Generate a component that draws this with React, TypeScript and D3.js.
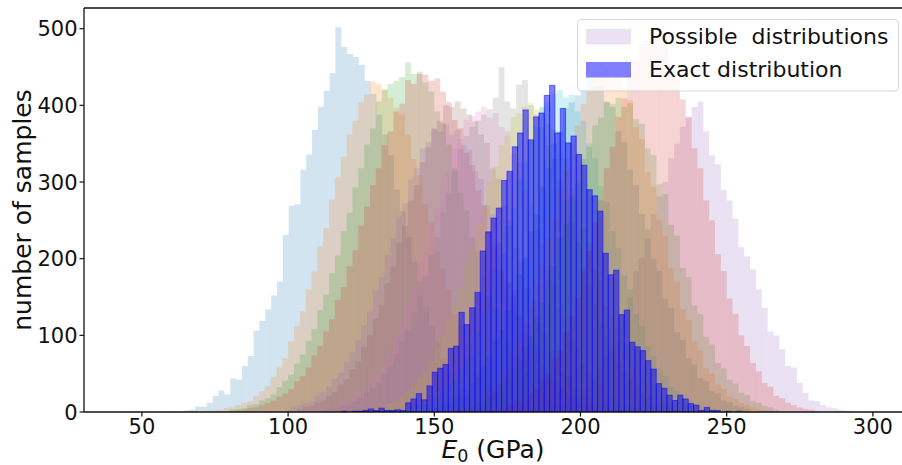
import React from "react";
import * as d3 from "d3";

// ---------- data ----------
const X_TICKS = [50, 100, 150, 200, 250, 300];
const Y_TICKS = [0, 100, 200, 300, 400, 500];
const X_DOMAIN = [30.2, 310.5];
const Y_DOMAIN = [0, 527];

const TAB10 = ["#1f77b4", "#ff7f0e", "#2ca02c", "#d62728", "#9467bd", "#8c564b", "#e377c2", "#7f7f7f", "#bcbd22", "#17becf"];

const POSSIBLE_BIN_WIDTH = 2;

const blueA = [1,0,1,0,0,0,0,1,0,1,1,2,3,7,7,12,21,28,23,44,42,60,73,106,119,134,152,170,231,269,271,316,336,368,398,419,442,502,476,467,463,453,432,415,388,362,335,290,262,228,196,170,138,112,92,70,55,41,30,21,15,10,6,4,2,1];
const orangeA = [1,0,1,2,2,3,5,6,9,12,14,21,27,34,46,58,70,92,112,131,160,183,216,240,277,306,333,362,380,404,414,431,428,421,410,397,388,362,330,309,271,248,209,187,160,128,112,88,74,55,46,33,27,19,16,11,8,6,3,3,2,1];
const greenA = [3,4,5,9,10,15,18,23,32,41,49,63,75,93,108,133,153,181,204,236,260,293,318,349,370,405,420,428,432,437,456,441,444,430,418,392,377,349,318,286,263,228,209,177,151,133,108,95,74,60,51,38,31,23,18,13,10,7,5,4,2];
const redA = [2,3,5,6,9,12,15,20,24,30,40,47,58,74,86,105,121,146,163,190,211,243,268,296,318,348,366,392,402,433,428,441,440,432,435,418,404,381,370,338,322,289,270,236,218,186,167,140,125,101,88,70,61,46,40,30,26,18,15,10,9,6,4,3,1];
const purpleA = [1,1,2,4,6,9,12,18,25,33,44,58,74,88,110,131,150,184,201,226,258,281,300,331,350,372,384,398,405,366,335,323,290,276,252,215,203,186,160,136,105,100,82,60,58,38,25,15,14,9,6,5,3,2,1];
const brownA = [4,7,8,12,15,21,26,36,43,56,66,85,100,122,140,168,190,221,243,276,296,326,345,369,380,400,398,405,396,388,379,362,351,318,304,268,250,214,196,162,147,116,104,80,70,52,46,32,28,19,16,11,9,5,4];
const pinkA = [3,6,9,11,16,19,27,33,45,52,69,80,101,116,142,160,192,208,246,265,298,314,344,356,381,386,392,398,384,390,372,366,338,325,290,272,237,218,184,170,136,122,95,84,62,55,40,36,24,20,13,11,7,5,3];
const grayA = [3,4,5,8,10,14,18,25,31,38,50,60,76,92,108,130,151,177,205,228,260,286,315,343,360,372,380,388,395,410,450,405,396,427,433,400,388,372,348,330,302,276,248,221,190,166,140,118,100,82,66,53,42,32,25,19,14,10,7,5,3,2,1];
const oliveA = [4,6,9,12,14,21,26,35,45,53,67,85,99,118,143,162,194,214,246,270,300,320,348,360,385,390,398,403,395,398,376,368,340,330,292,276,240,222,186,172,138,124,96,86,65,56,42,36,25,21,14,12,8,6,3];
const cyanA = [2,3,4,6,9,10,16,19,27,35,44,56,70,92,106,132,153,185,206,243,266,303,325,355,372,398,404,415,420,410,414,392,380,350,331,295,274,236,214,178,160,128,112,86,73,55,47,33,28,18,16,10,8,5,4,2,1];
const blueB = [4,6,10,12,17,22,29,38,46,61,72,92,108,133,152,180,201,236,258,294,318,350,366,396,404,413,420,433,424,426,405,398,366,352,316,296,258,238,200,184,148,136,104,94,70,62,44,40,27,24,15,13,8,6,4];
const orangeB = [2,3,5,6,9,12,17,20,29,36,48,60,77,94,118,137,167,192,226,254,290,316,350,374,402,418,438,444,448,436,441,420,407,372,356,313,294,250,230,188,170,134,120,92,80,57,50,36,30,20,17,11,9,6,4,2,1];
const greenB = [4,7,8,13,15,22,27,37,45,57,68,86,100,125,142,172,191,226,245,280,298,330,346,374,384,404,402,410,398,403,382,376,344,335,297,284,244,230,188,176,139,128,98,88,64,57,42,37,25,22,14,12,8,6,3];
const redB = [2,3,5,6,9,14,16,24,30,41,50,68,80,104,125,150,183,210,247,276,318,346,385,409,443,458,480,484,490,478,486,455,444,408,385,344,318,276,250,206,184,148,128,100,86,64,53,38,33,21,18,12,9,6,4,3,1];
const purpleB = [3,6,9,12,14,21,26,33,43,51,65,78,94,113,131,158,176,205,226,255,272,303,318,344,352,370,366,375,362,368,348,342,314,304,270,258,221,208,170,160,124,115,88,80,58,52,38,34,23,20,13,11,7,5,3];

// first bin left edge (GPa) of each possible distribution, in drawing order
const possibleStarts = [42.2, 66, 80, 82, 184, 103, 112, 112, 128, 136, 148, 152, 158, 168, 99];
const possibleCounts = [blueA, orangeA, greenA, redA, purpleA, brownA, pinkA, grayA, oliveA, cyanA, blueB, orangeB, greenB, redB, purpleB];

const EXACT_START = 118.3;
const EXACT_BIN_WIDTH = 1.824;
const exactCounts = [1,0,1,1,2,4,2,5,2,2,3,2,12,17,24,16,34,52,57,62,83,86,130,114,136,156,210,235,253,266,302,314,346,364,394,355,385,390,413,426,364,396,351,360,336,322,290,282,262,207,179,185,127,133,91,85,80,67,56,37,31,22,15,22,17,11,9,2,6,2,2,0,1,0,1];

const LEGEND_LABELS = ["Possible  distributions", "Exact distribution"];

// ---------- layout ----------
const W = 902, H = 465;
const L = 84, T = 8, B = 412;
const FONT = "'DejaVu Sans', sans-serif";

export default function App() {
  const x = d3.scaleLinear().domain(X_DOMAIN).range([L, 903.6]);
  const y = d3.scaleLinear().domain(Y_DOMAIN).range([B, T]);

  const bars = (start: number, w: number, counts: number[]) =>
    counts.map((c, i) => {
      const x0 = x(start + i * w);
      const x1 = x(start + (i + 1) * w);
      return { x: x0, w: x1 - x0, y: y(c), h: y(0) - y(c), c };
    }).filter((b) => b.c > 0);

  return (
    <svg width={W} height={H} style={{ position: "absolute", left: 0, top: 0, display: "block", background: "white" }} fontFamily={FONT}>
      <defs>
        <clipPath id="plotclip">
          <rect x={L} y={T} width={W - L} height={B - T} />
        </clipPath>
      </defs>
      <g clipPath="url(#plotclip)">
        {possibleCounts.map((counts, si) => (
          <g key={si} fill={TAB10[si % 10]} fillOpacity={0.2}>
            {bars(possibleStarts[si], POSSIBLE_BIN_WIDTH, counts).map((b, i) => (
              <rect key={i} x={b.x} y={b.y} width={b.w} height={b.h} />
            ))}
          </g>
        ))}
        <g fill="#0000ff" fillOpacity={0.5} stroke="#0000ff" strokeOpacity={0.5} strokeWidth={1}>
          {bars(EXACT_START, EXACT_BIN_WIDTH, exactCounts).map((b, i) => (
            <rect key={i} x={b.x} y={b.y} width={b.w} height={b.h} />
          ))}
        </g>
      </g>

      {/* spines */}
      <line x1={L} x2={L} y1={T} y2={B} stroke="#111" strokeWidth={1.3} />
      <line x1={L} x2={W} y1={B} y2={B} stroke="#111" strokeWidth={1.3} />
      <line x1={L} x2={W} y1={T} y2={T} stroke="#111" strokeWidth={1.3} />

      {/* x ticks */}
      {X_TICKS.map((t) => (
        <g key={t}>
          <line x1={x(t)} x2={x(t)} y1={B} y2={B + 4.5} stroke="#111" strokeWidth={1.2} />
          <text x={x(t)} y={433.5} fontSize={21} textAnchor="middle" fill="#111">{t}</text>
        </g>
      ))}
      {/* y ticks */}
      {Y_TICKS.map((t) => (
        <g key={t}>
          <line x1={L - 4.5} x2={L} y1={y(t)} y2={y(t)} stroke="#111" strokeWidth={1.2} />
          <text x={77.5} y={y(t) + 7.6} fontSize={21} textAnchor="end" fill="#111">{t}</text>
        </g>
      ))}

      {/* axis labels */}
      <text x={493} y={458} fontSize={25} textAnchor="middle" fill="#111">
        <tspan fontStyle="italic">E</tspan>
        <tspan fontSize={17.5} dy={4}>0</tspan>
        <tspan dy={-4}> (GPa)</tspan>
      </text>
      <text transform="translate(31,210) rotate(-90)" fontSize={25} textAnchor="middle" fill="#111">number of samples</text>

      {/* legend */}
      <rect x={577.5} y={19.5} width={321} height={71.5} rx={4} fill="white" fillOpacity={0.8} stroke="#cccccc" strokeOpacity={0.8} />
      <rect x={586} y={29} width={45} height={15.5} fill={TAB10[4]} fillOpacity={0.2} />
      <rect x={586} y={62} width={45} height={15.5} fill="#0000ff" fillOpacity={0.5} />
      <text x={649} y={44.3} fontSize={22} fill="#111" style={{ whiteSpace: "pre" }}>{LEGEND_LABELS[0]}</text>
      <text x={649} y={77.3} fontSize={22} fill="#111">{LEGEND_LABELS[1]}</text>
    </svg>
  );
}
